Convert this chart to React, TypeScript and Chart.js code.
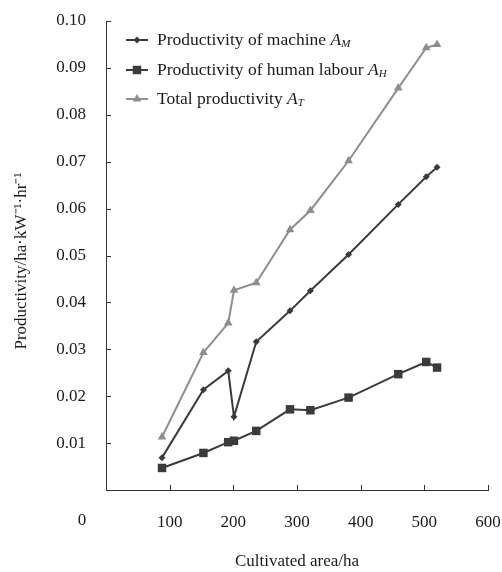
import React, { useEffect, useRef } from "react";
import { Chart, registerables } from "chart.js";

Chart.register(...registerables);

// ---- data ----
const area = [88, 153, 192, 201, 236, 289, 321, 381, 459, 503, 520];
const machine = [0.0069, 0.0214, 0.0254, 0.0156, 0.0316, 0.0382, 0.0425, 0.0502, 0.0609, 0.0668, 0.0688];
const human = [0.0047, 0.0079, 0.0102, 0.0105, 0.0126, 0.0172, 0.0170, 0.0197, 0.0247, 0.0273, 0.0261];
const total = [0.0113, 0.0293, 0.0356, 0.0426, 0.0442, 0.0555, 0.0596, 0.0702, 0.0857, 0.0943, 0.0950];

const seriesNames = ["Productivity of machine ", "Productivity of human labour ", "Total productivity "];
const seriesSubs = ["M", "H", "T"];
const xTitle = "Cultivated area/ha";
const yTitle = "Productivity/ha\u00B7kW\u207B\u00B9\u00B7hr\u207B\u00B9";
const xTicks = [0, 100, 200, 300, 400, 500, 600];
const yTicks = [0.01, 0.02, 0.03, 0.04, 0.05, 0.06, 0.07, 0.08, 0.09, 0.1];

const FONT = '"Liberation Serif", "Times New Roman", serif';
const DARK = "#3b3b3b";
const LIGHT = "#8e8e8e";
const AXIS = "#333333";
const TEXT = "#1a1a1a";

function marker(ctx: CanvasRenderingContext2D, style: string, x: number, y: number, r: number, color: string) {
  ctx.save();
  ctx.fillStyle = color;
  ctx.beginPath();
  if (style === "rectRot") {
    ctx.moveTo(x, y - r);
    ctx.lineTo(x + r, y);
    ctx.lineTo(x, y + r);
    ctx.lineTo(x - r, y);
  } else if (style === "rect") {
    const s = Math.SQRT1_2 * r;
    ctx.rect(x - s, y - s, 2 * s, 2 * s);
  } else {
    let a = 0;
    ctx.moveTo(x + Math.sin(a) * r, y - Math.cos(a) * r);
    a += (2 * Math.PI) / 3;
    ctx.lineTo(x + Math.sin(a) * r, y - Math.cos(a) * r);
    a += (2 * Math.PI) / 3;
    ctx.lineTo(x + Math.sin(a) * r, y - Math.cos(a) * r);
  }
  ctx.closePath();
  ctx.fill();
  ctx.restore();
}

const styles = [
  { color: DARK, point: "rectRot", r: 3.5 },
  { color: DARK, point: "rect", r: 6 },
  { color: LIGHT, point: "triangle", r: 5 },
];

const decor = {
  id: "decor",
  afterDraw(chart: any) {
    const { ctx, chartArea, scales } = chart;
    const xs = scales.x;
    const ys = scales.y;
    ctx.save();
    ctx.strokeStyle = AXIS;
    ctx.lineWidth = 1;
    // inward tick marks
    xTicks.forEach((v) => {
      if (v === 0) return;
      const px = Math.round(xs.getPixelForValue(v)) + 0.5;
      ctx.beginPath();
      ctx.moveTo(px, chartArea.bottom);
      ctx.lineTo(px, chartArea.bottom - 5);
      ctx.stroke();
    });
    yTicks.forEach((v) => {
      const py = Math.round(ys.getPixelForValue(v)) + 0.5;
      ctx.beginPath();
      ctx.moveTo(chartArea.left, py);
      ctx.lineTo(chartArea.left + 5, py);
      ctx.stroke();
    });
    // origin label
    ctx.fillStyle = TEXT;
    ctx.font = `17px ${FONT}`;
    ctx.textAlign = "center";
    ctx.textBaseline = "middle";
    ctx.fillText("0", chartArea.left - 24, 521);
    // y title
    ctx.save();
    ctx.translate(22, 261);
    ctx.rotate(-Math.PI / 2);
    ctx.fillText(yTitle, 0, 0);
    ctx.restore();
    // legend
    const rows = [40, 70, 99];
    rows.forEach((ry, i) => {
      const st = styles[i];
      ctx.strokeStyle = st.color;
      ctx.lineWidth = 2;
      ctx.beginPath();
      ctx.moveTo(126, ry);
      ctx.lineTo(148, ry);
      ctx.stroke();
      marker(ctx, st.point, 137, ry, st.r, st.color);
      ctx.fillStyle = TEXT;
      ctx.textAlign = "left";
      ctx.font = `17.5px ${FONT}`;
      ctx.fillText(seriesNames[i], 157, ry);
      let tx = 157 + ctx.measureText(seriesNames[i]).width;
      ctx.font = `italic 17.5px ${FONT}`;
      ctx.fillText("A", tx, ry);
      tx += ctx.measureText("A").width;
      ctx.font = `italic 11px ${FONT}`;
      ctx.fillText(seriesSubs[i], tx, ry + 4);
    });
    ctx.restore();
  },
};

export default function App() {
  const ref = useRef<HTMLCanvasElement | null>(null);
  useEffect(() => {
    document.body.style.margin = "0";
    const canvas = ref.current;
    if (!canvas) return;
    const mk = (vals: number[]) => vals.map((v, i) => ({ x: area[i], y: v }));
    const sets = [machine, human, total].map((vals, i) => ({
      label: seriesNames[i] + "A" + seriesSubs[i],
      data: mk(vals),
      borderColor: styles[i].color,
      backgroundColor: styles[i].color,
      borderWidth: 2,
      pointStyle: styles[i].point,
      pointRadius: styles[i].r,
      pointBorderWidth: 0,
      pointBackgroundColor: styles[i].color,
      tension: 0,
    }));
    const chart = new Chart(canvas, {
      type: "line",
      data: { datasets: sets as any },
      options: {
        animation: false,
        responsive: false,
        layout: { padding: { left: 0, right: 14, top: 21, bottom: 0 } },
        plugins: { legend: { display: false }, tooltip: { enabled: false } },
        scales: {
          x: {
            type: "linear",
            min: 0,
            max: 600,
            afterFit: (s: any) => {
              s.height = 82;
              s.paddingLeft = 0;
              s.paddingRight = 0;
            },
            afterBuildTicks: (s: any) => {
              s.ticks = xTicks.map((v) => ({ value: v }));
            },
            ticks: {
              callback: (v: any) => (v === 0 ? "" : String(v)),
              font: { family: FONT, size: 17 },
              color: TEXT,
              padding: 22,
              maxRotation: 0,
            },
            grid: { display: true, drawOnChartArea: false, drawTicks: false },
            border: { display: true, color: AXIS, width: 1 },
            title: {
              display: true,
              text: xTitle,
              font: { family: FONT, size: 17 },
              color: TEXT,
              padding: { top: 0, bottom: 0 },
            },
          },
          y: {
            type: "linear",
            min: 0,
            max: 0.1,
            afterFit: (s: any) => {
              s.width = 106;
              s.paddingTop = 0;
              s.paddingBottom = 0;
            },
            afterBuildTicks: (s: any) => {
              s.ticks = [0].concat(yTicks).map((v) => ({ value: v }));
            },
            ticks: {
              callback: (v: any) => (v === 0 ? "" : Number(v).toFixed(2)),
              font: { family: FONT, size: 17 },
              color: TEXT,
              padding: 20,
            },
            grid: { display: true, drawOnChartArea: false, drawTicks: false },
            border: { display: true, color: AXIS, width: 1 },
          },
        },
      },
      plugins: [decor],
    });
    return () => chart.destroy();
  }, []);
  return (
    <div style={{ width: 502, height: 572, background: "#fff" }}>
      <canvas ref={ref} width={502} height={572} style={{ display: "block" }} />
    </div>
  );
}
